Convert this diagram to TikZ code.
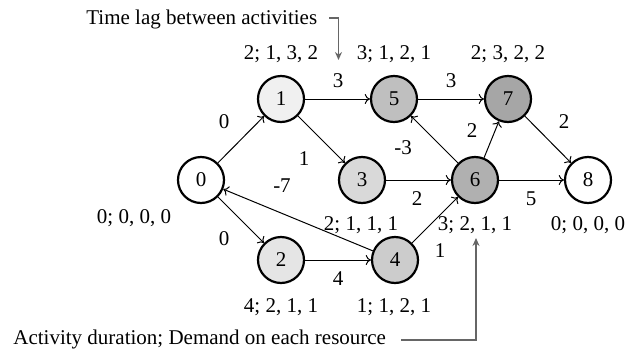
\documentclass[tikz,border=0pt]{standalone}
\usepackage{fontspec}
\setmainfont{Liberation Serif}
\usetikzlibrary{arrows.meta}
\begin{document}
\begin{tikzpicture}[x=0.5pt,y={(0,-0.5pt)},
  font=\fontsize{10.5}{12}\selectfont,
  act/.style={circle,draw=black,line width=1.1pt,minimum size=23pt,inner sep=0pt},
  lag/.style={-{To[length=2.6pt,width=5pt]},line width=0.5pt},
  lbl/.style={inner sep=0pt,anchor=base},
  note/.style={-{Stealth[length=4pt,width=3.5pt]},draw=black!60,line width=0.7pt}]
\useasboundingbox (0,0) rectangle (627,354);
% activities, shaded from light to dark
\node[act,fill=white]    (n0) at (201,180) {0};
\node[act,fill=black!6]  (n1) at (281,99)  {1};
\node[act,fill=black!10] (n2) at (281,260) {2};
\node[act,fill=black!15] (n3) at (362,180) {3};
\node[act,fill=black!20] (n4) at (395,260) {4};
\node[act,fill=black!25] (n5) at (394,99)  {5};
\node[act,fill=black!31] (n6) at (475,180) {6};
\node[act,fill=black!35] (n7) at (508,99)  {7};
\node[act,fill=white]    (n8) at (588,180) {8};
% precedence relations
\draw[lag] (n0) -- (n1);
\draw[lag] (n0) -- (n2);
\draw[lag] (n1) -- (n5);
\draw[lag] (n1) -- (n3);
\draw[lag] (n5) -- (n7);
\draw[lag] (n3) -- (n6);
\draw[lag] (n2) -- (n4);
\draw[lag] (n4) -- (n6);
\draw[lag] (n4) -- (n0);
\draw[lag] (n6) -- (n5);
\draw[lag] (n6) -- (n7);
\draw[lag] (n6) -- (n8);
\draw[lag] (n7) -- (n8);
% time lags
\node[lbl] (l01) at (224,128) {0};
\node[lbl] (l02) at (224,245) {0};
\node[lbl] (l15) at (338,87)  {3};
\node[lbl] (l57) at (451,87)  {3};
\node[lbl] (l13) at (304,165) {1};
\node[lbl] (l40) at (282,192) {-7};
\node[lbl] (l65) at (403,154) {-3};
\node[lbl] (l67) at (472,137) {2};
\node[lbl] (l78) at (564,128) {2};
\node[lbl] (l36) at (417,205) {2};
\node[lbl] (l68) at (531,205) {5};
\node[lbl] (l24) at (338,285) {4};
\node[lbl] (l46) at (440,257) {1};
% duration; resource demands
\node[lbl] (d1) at (281,59.5) {2; 1, 3, 2};
\node[lbl] (d5) at (394,59.5) {3; 1, 2, 1};
\node[lbl] (d7) at (508,59.5) {2; 3, 2, 2};
\node[lbl] (d0) at (134,223)  {0; 0, 0, 0};
\node[lbl] (d3) at (361,230)  {2; 1, 1, 1};
\node[lbl] (d6) at (475,230)  {3; 2, 1, 1};
\node[lbl] (d8) at (588,230)  {0; 0, 0, 0};
\node[lbl] (d2) at (281,312)  {4; 2, 1, 1};
\node[lbl] (d4) at (394,312)  {1; 1, 2, 1};
% legend notes
\node[inner sep=0pt,anchor=base west] (tl) at (86,24) {Time lag between activities};
\coordinate (tlend) at (338.5,60);
\draw[note] (329,18) -| (tlend);
\node[inner sep=0pt,anchor=base west] (ad) at (13,344) {Activity duration; Demand on each resource};
\coordinate (adend) at (476,238);
\draw[note] (401,340) -| (adend);
\end{tikzpicture}
\end{document}
